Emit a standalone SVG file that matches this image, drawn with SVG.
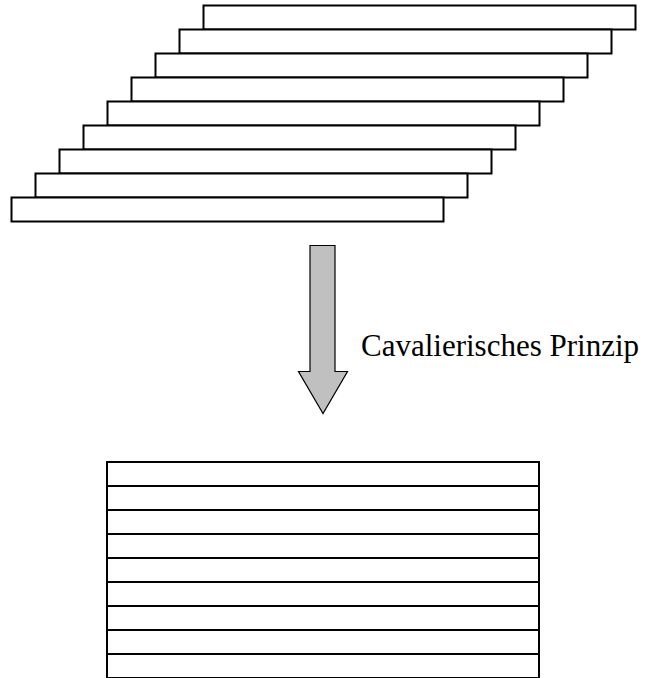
<svg xmlns="http://www.w3.org/2000/svg" width="651" height="678" viewBox="0 0 651 678">
<style>
.bar{fill:#fff;stroke:#000;stroke-width:2}
.arrow{fill:#c0c0c0;stroke:#000;stroke-width:1.2}
.lbl{font-family:"Liberation Serif","Times New Roman",serif;font-size:31px;fill:#000}
</style>
<rect width="651" height="678" fill="#fff"/>
<g id="stair">
<rect class="bar" x="203.5" y="5.5" width="432" height="24"/>
<rect class="bar" x="179.5" y="29.5" width="432" height="24"/>
<rect class="bar" x="155.5" y="53.5" width="432" height="24"/>
<rect class="bar" x="131.5" y="77.5" width="432" height="24"/>
<rect class="bar" x="107.5" y="101.5" width="432" height="24"/>
<rect class="bar" x="83.5" y="125.5" width="432" height="24"/>
<rect class="bar" x="59.5" y="149.5" width="432" height="24"/>
<rect class="bar" x="35.5" y="173.5" width="432" height="24"/>
<rect class="bar" x="11.5" y="197.5" width="432" height="24"/>
</g>
<g id="connectors">
<path class="arrow" d="M310,245.5 H335 V371.5 H347.5 L323,413.5 L298.5,371.5 H310 Z"/>
</g>
<g id="label">
<text class="lbl" x="361" y="356">Cavalierisches Prinzip</text>
</g>
<g id="stack">
<rect class="bar" x="107" y="462" width="432" height="24"/>
<rect class="bar" x="107" y="486" width="432" height="24"/>
<rect class="bar" x="107" y="510" width="432" height="24"/>
<rect class="bar" x="107" y="534" width="432" height="24"/>
<rect class="bar" x="107" y="558" width="432" height="24"/>
<rect class="bar" x="107" y="582" width="432" height="24"/>
<rect class="bar" x="107" y="606" width="432" height="24"/>
<rect class="bar" x="107" y="630" width="432" height="24"/>
<rect class="bar" x="107" y="654" width="432" height="24"/>
</g>
</svg>
